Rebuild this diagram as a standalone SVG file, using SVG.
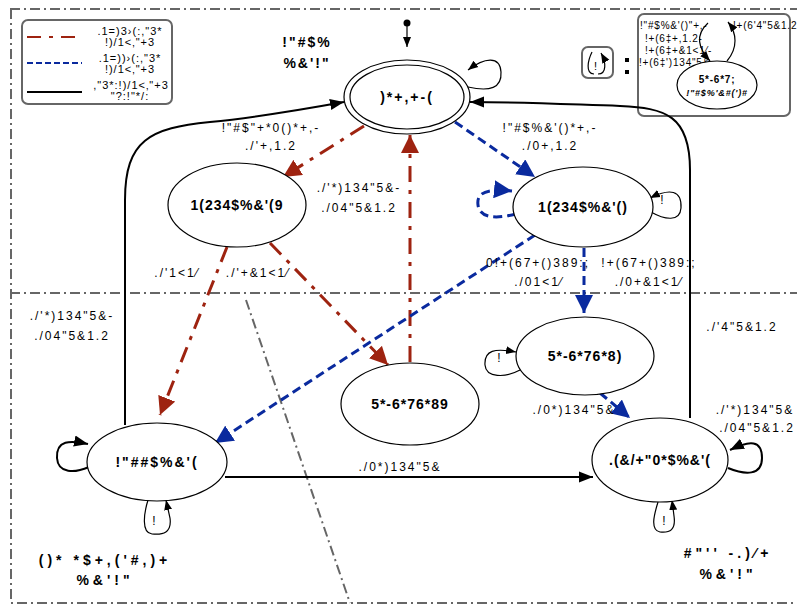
<svg xmlns="http://www.w3.org/2000/svg" width="797" height="608" viewBox="0 0 797 608">
<defs>
<style>
.bd{fill:none;stroke:#666;stroke-width:2;stroke-dasharray:10,4,2,4}
.n{fill:#fff;stroke:#000;stroke-width:1.2}
.nl{font-family:"Liberation Sans",Arial,sans-serif;font-size:14px;font-weight:bold;text-anchor:middle;letter-spacing:1px}
.el{font-family:"Liberation Sans",Arial,sans-serif;font-size:12px;text-anchor:middle;letter-spacing:2px}
.sm{font-family:"Liberation Sans",Arial,sans-serif;font-size:10px;letter-spacing:0.8px}
.wide{letter-spacing:4px}
.red{fill:none;stroke:#9e2310;stroke-width:3;stroke-dasharray:16,8,4,8}
.blue{fill:none;stroke:#0a2a9e;stroke-width:3;stroke-dasharray:9,5}
.blk{fill:none;stroke:#000;stroke-width:2}
.thin{fill:none;stroke:#000;stroke-width:1.2}
</style>
<marker id="ar" viewBox="0 0 10 10" refX="10" refY="5" markerWidth="18" markerHeight="18" markerUnits="userSpaceOnUse" orient="auto"><path d="M0,0L10,5L0,10z" fill="#9e2310"/></marker>
<marker id="ab" viewBox="0 0 10 10" refX="10" refY="5" markerWidth="18" markerHeight="18" markerUnits="userSpaceOnUse" orient="auto"><path d="M0,0L10,5L0,10z" fill="#0a2a9e"/></marker>
<marker id="ak" viewBox="0 0 10 10" refX="10" refY="5" markerWidth="14" markerHeight="14" markerUnits="userSpaceOnUse" orient="auto"><path d="M0,1L10,5L0,9z" fill="#000"/></marker>
<marker id="as" viewBox="0 0 10 10" refX="10" refY="5" markerWidth="10" markerHeight="10" markerUnits="userSpaceOnUse" orient="auto"><path d="M0,1L10,5L0,9z" fill="#000"/></marker>
</defs>
<rect width="797" height="608" fill="#fff"/>
<g id="borders">
<path class="bd" d="M10,9H797M11,9V603H797M10,293H797M246,300L350,603"/>
</g>
<g id="legend">
<rect x="22" y="20" width="150" height="84" rx="6" fill="#fff" stroke="#666" stroke-width="2"/>
<line x1="27" y1="37" x2="82" y2="37" stroke="#9e2310" stroke-width="2" stroke-dasharray="14,8,4,8"/>
<line x1="27" y1="63" x2="82" y2="63" stroke="#0a2a9e" stroke-width="2" stroke-dasharray="6,3"/>
<line x1="27" y1="92" x2="82" y2="92" stroke="#000" stroke-width="2"/>
<text class="el" x="130" y="35" style="font-size:11px;letter-spacing:1px">.1=)3›(:,"3*</text>
<text class="el" x="130" y="46" style="font-size:11px;letter-spacing:1px">!)/1&lt;‚"+3</text>
<text class="el" x="130" y="62" style="font-size:11px;letter-spacing:1px">.1=))›(:,"3*</text>
<text class="el" x="130" y="73" style="font-size:11px;letter-spacing:1px">!)/1&lt;‚"+3</text>
<text class="el" x="131" y="89" style="font-size:11px;letter-spacing:1px">,"3*:!)/1&lt;‚"+3</text>
<text class="el" x="130" y="100" style="font-size:11px;letter-spacing:1px">"?:!"*/:</text>
</g>
<g id="key">
<rect x="582" y="47" width="31" height="31" rx="6" fill="#fff" stroke="#666" stroke-width="2"/>
<path class="thin" d="M594,74C585,74 588,60 592,52M598,74C607,74 606,62 601,53" marker-end="url(#as)"/>
<text class="sm" x="594" y="70" style="font-size:11px">!</text>
<rect x="625" y="58" width="4" height="4" fill="#000"/>
<rect x="625" y="70" width="4" height="4" fill="#000"/>
<rect x="638" y="14" width="152" height="102" rx="6" fill="#fff" stroke="#666" stroke-width="2"/>
<text class="sm" x="640" y="29">!"#$%&amp;'()"+,-</text>
<text class="sm" x="645" y="42">!+(6‡+,1.2-</text>
<text class="sm" x="645" y="54">!+(6‡+&amp;1&lt;1⁄-</text>
<text class="sm" x="639" y="66">!+(6‡')134"5&amp;</text>
<text class="sm" x="733" y="29">!+(6'4"5&amp;1.2</text>
<path class="thin" d="M708,23C695,35 698,48 710,61" marker-end="url(#as)"/>
<path class="thin" d="M727,61C738,48 737,33 728,22" marker-end="url(#as)"/>
<ellipse cx="717" cy="85" rx="40" ry="24" fill="#fff" stroke="#000" stroke-width="1.2"/>
<text class="sm" x="717" y="83" text-anchor="middle" font-weight="bold">5*-6*7;</text>
<text class="sm" x="717" y="96" text-anchor="middle" font-weight="bold" font-style="italic" style="font-size:9px">!"#$%'&amp;#(')#</text>
</g>
<g id="connectors">
<circle cx="407" cy="23" r="3.5" fill="#000"/>
<path class="thin" d="M407,26V47" marker-end="url(#as)"/>
<path class="thin" d="M468,87C490,92 502,88 501,72C500,56 485,57 468,70" marker-end="url(#as)"/>
<path class="red" d="M364,126L283,177" marker-end="url(#ar)"/>
<path class="blue" d="M455,122L535,177" marker-end="url(#ab)"/>
<path class="red" d="M270,243L388,365" marker-end="url(#ar)"/>
<path class="red" d="M227,247L160,415" marker-end="url(#ar)"/>
<path class="red" d="M410,362V135" marker-end="url(#ar)"/>
<path class="blue" d="M516,214C500,218 480,220 478,205C476,190 492,189 512,191" marker-end="url(#ab)"/>
<path class="thin" d="M651,212C665,220 680,222 681,208C682,190 670,188 650,198" marker-end="url(#as)"/>
<path class="blue" d="M535,235L215,443" marker-end="url(#ab)"/>
<path class="blue" d="M584,248V313" marker-end="url(#ab)"/>
<path class="thin" d="M520,370C505,378 486,378 485,365C484,350 495,348 516,352" marker-end="url(#as)"/>
<path class="blue" d="M600,393L630,418" marker-end="url(#ab)"/>
<path class="blk" d="M728,468C745,475 762,476 762,458C762,440 750,440 730,450" marker-end="url(#ak)"/>
<path class="thin" d="M658,502C654,515 650,530 660,532C670,533 676,530 674,516L672,500" marker-end="url(#as)"/>
<path class="blk" d="M225,477H593" marker-end="url(#ak)"/>
<path class="blk" d="M89,467C75,473 58,474 57,458C56,440 70,440 88,444" marker-end="url(#ak)"/>
<path class="thin" d="M148,500C144,513 141,533 152,534C163,535 172,533 170,518L166,500" marker-end="url(#as)"/>
<path class="blk" d="M125,425V200C125,140 150,128 210,122C260,117 300,110 344,102" marker-end="url(#ak)"/>
<path class="blk" d="M690,418V170C690,115 665,108 620,106C560,104 520,102 470,102" marker-end="url(#ak)"/>
</g>
<g id="labels">
<text class="nl" x="307" y="47" style="letter-spacing:2px">!"#$%</text>
<text class="nl" x="307" y="68" style="letter-spacing:2px">%&amp;'!"</text>
<text class="el" x="271" y="132">!"#$"+*0()*+,-</text>
<text class="el" x="271" y="150">./'+,1.2</text>
<text class="el" x="550" y="132">!"#$%&amp;'()*+,-</text>
<text class="el" x="550" y="150">./0+,1.2</text>
<text class="el" x="359" y="192">./'*)134"5&amp;-</text>
<text class="el" x="359" y="212">./04"5&amp;1.2</text>
<text class="el" x="177" y="277">./'1&lt;1⁄</text>
<text class="el" x="258" y="277">./'+&amp;1&lt;1⁄</text>
<text class="el" x="538" y="267">0!+(67+()389:;</text>
<text class="el" x="539" y="286">./01&lt;1⁄</text>
<text class="el" x="649" y="267">!+(67+()389:;</text>
<text class="el" x="649" y="286">./0+&amp;1&lt;1⁄</text>
<text class="el" x="72" y="320">./'*)134"5&amp;-</text>
<text class="el" x="72" y="340">./04"5&amp;1.2</text>
<text class="el" x="742" y="331">./'4"5&amp;1.2</text>
<text class="el" x="574" y="414">./0*)134"5&amp;</text>
<text class="el" x="755" y="414">./'*)134"5&amp;</text>
<text class="el" x="757" y="432">./04"5&amp;1.2</text>
<text class="el" x="400" y="471">./0*)134"5&amp;</text>
<text class="el" x="663" y="204">!</text>
<text class="el" x="500" y="362">!</text>
<text class="el" x="665" y="525">!</text>
<text class="el" x="155" y="525">!</text>
<text class="nl wide" x="105" y="565">()* *$+,('#,)+</text>
<text class="nl wide" x="105" y="585">%&amp;'!"</text>
<text class="nl wide" x="728" y="558">#"'' -.)⁄+</text>
<text class="nl wide" x="728" y="579">%&amp;'!"</text>
</g>
<g id="start">
<ellipse class="n" cx="407" cy="97" rx="63" ry="37"/>
<ellipse class="n" cx="407" cy="97" rx="57" ry="32"/>
<text class="nl" x="407" y="102" style="letter-spacing:2px">)*+,+-(</text>
</g>
<g id="nodeA">
<ellipse class="n" cx="237" cy="205" rx="69" ry="42"/>
<text class="nl" x="237" y="210">1(234$%&amp;'(9</text>
</g>
<g id="nodeB">
<ellipse class="n" cx="583" cy="207" rx="70" ry="40"/>
<text class="nl" x="583" y="212">1(234$%&amp;'()</text>
</g>
<g id="nodeC">
<ellipse class="n" cx="585" cy="356" rx="69" ry="39"/>
<text class="nl" x="585" y="361">5*-6*76*8)</text>
</g>
<g id="nodeD">
<ellipse class="n" cx="410" cy="404" rx="69" ry="41"/>
<text class="nl" x="410" y="409">5*-6*76*89</text>
</g>
<g id="nodeE">
<ellipse class="n" cx="157" cy="462" rx="70" ry="39"/>
<text class="nl" x="157" y="467" style="letter-spacing:2px">!"##$%&amp;'(</text>
</g>
<g id="nodeF">
<ellipse class="n" cx="660" cy="460" rx="68" ry="42"/>
<text class="nl" x="660" y="465">.(&amp;/+"0*$%&amp;'(</text>
</g>
</svg>
